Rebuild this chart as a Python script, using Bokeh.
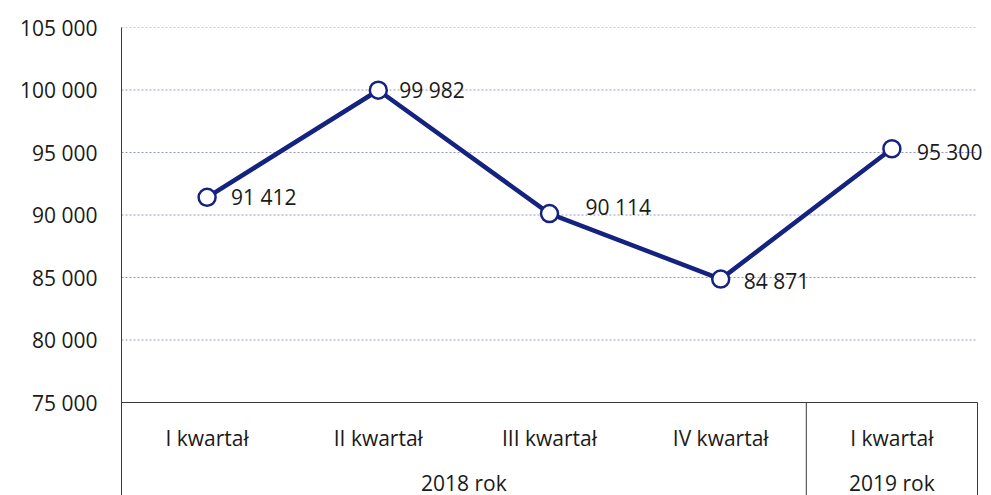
from bokeh.plotting import figure
from bokeh.models import ColumnDataSource, FixedTicker, Range1d, LabelSet
from bokeh.core.properties import value
from bokeh.embed import file_html
from bokeh.resources import INLINE

# ---- data ----
quarters = ["I kwartał", "II kwartał", "III kwartał", "IV kwartał", "I kwartał"]
years = ["2018 rok", "2018 rok", "2018 rok", "2018 rok", "2019 rok"]
values = [91412, 99982, 90114, 84871, 95300]
y_ticks = [75000, 80000, 85000, 90000, 95000, 100000, 105000]

# ---- style ----
NAVY = "#14237f"
FONT = "Open Sans"
FS = "21px"
TEXT_COLOR = "#1a1a1a"
label_dx = [24, 21, 36, 23, 25]
label_dy = [0, 0, 7, -2, -3]

y_min, y_max = y_ticks[0], y_ticks[-1]
px_per_unit = 375 / (y_max - y_min)
table_px = 93
y_bottom = y_min - table_px / px_per_unit

n = len(quarters)
xs = [i + 0.5 for i in range(n)]
cat_px = 856 / n
extra_right_px = 14

p = figure(frame_width=856 + extra_right_px, frame_height=375 + table_px,
           min_border_left=121, min_border_right=0,
           min_border_top=27, min_border_bottom=0,
           x_range=Range1d(0, n + extra_right_px / cat_px), y_range=Range1d(y_bottom, y_max),
           output_backend="svg", toolbar_location=None)
p.outline_line_color = None
p.background_fill_color = "white"
p.xaxis.visible = False
p.xgrid.visible = False
p.ygrid.visible = False

# y axis
ax = p.yaxis[0]
ax.ticker = FixedTicker(ticks=y_ticks)
ax.major_label_overrides = {t: f"{t:,}".replace(",", " ") for t in y_ticks}
ax.major_tick_line_color = None
ax.minor_tick_line_color = None
ax.major_tick_out = 0
ax.major_tick_in = 0
ax.major_label_standoff = 24
ax.axis_line_color = "#3a3a3a"
ax.major_label_text_font = FONT
ax.major_label_text_font_size = FS
ax.major_label_text_color = TEXT_COLOR

# dotted grid lines (drawn across the category span only)
g = y_ticks[1:]
p.segment(x0=[0] * len(g), y0=g, x1=[n] * len(g), y1=g,
          line_color="#9494cc", line_dash="2 2", line_width=1)

# table lines: baseline and vertical separators
p.segment(x0=[0], y0=[y_min], x1=[n], y1=[y_min], line_color="#3a3a3a", line_width=1)
bounds = [i for i in range(1, n) if years[i] != years[i - 1]] + [n]
p.segment(x0=bounds, y0=[y_min] * len(bounds), x1=bounds, y1=[y_bottom] * len(bounds),
          line_color="#3a3a3a", line_width=1)

# category labels
cat_y = y_min - 35 / px_per_unit
p.text(x=xs, y=[cat_y] * n, text=quarters, text_align="center", text_baseline="middle",
       text_font=value(FONT), text_font_size=FS, text_color=TEXT_COLOR)
groups = []
for yv in years:
    if yv not in groups:
        groups.append(yv)
gx = [sum(x for x, yy in zip(xs, years) if yy == g_) / years.count(g_) for g_ in groups]
year_y = y_min - 80 / px_per_unit
p.text(x=gx, y=[year_y] * len(groups), text=groups, text_align="center", text_baseline="middle",
       text_font=value(FONT), text_font_size=FS, text_color=TEXT_COLOR)

# series
src = ColumnDataSource(dict(x=xs, y=values,
                            lbl=[f"{v:,}".replace(",", " ") for v in values],
                            dx=label_dx, dy=label_dy))
p.line("x", "y", source=src, line_color=NAVY, line_width=4.5)
p.scatter("x", "y", source=src, size=17, fill_color="white", line_color=NAVY, line_width=2.5)
labels = LabelSet(x="x", y="y", text="lbl", source=src, x_offset="dx", y_offset="dy",
                  text_align="left", text_baseline="middle",
                  text_font=value(FONT), text_font_size=FS, text_color=TEXT_COLOR)
p.add_layout(labels)

open("out.html", "w").write(file_html(p, INLINE))
